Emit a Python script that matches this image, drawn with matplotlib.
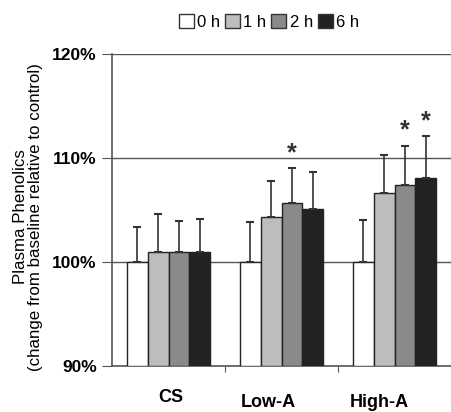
import matplotlib
matplotlib.use("Agg")
import matplotlib.pyplot as plt
import numpy as np
from matplotlib.patches import Patch

plt.rcParams['font.family'] = ['Liberation Sans', 'DejaVu Sans']

groups = ["CS", "Low-A", "High-A"]
series = ["0 h", "1 h", "2 h", "6 h"]
values = {
    "0 h": [100.0, 100.0, 100.0],
    "1 h": [101.0, 104.3, 106.65],
    "2 h": [101.0, 105.65, 107.4],
    "6 h": [101.0, 105.05, 108.05],
}
errors = {
    "0 h": [3.4, 3.8, 4.0],
    "1 h": [3.65, 3.5, 3.6],
    "2 h": [2.9, 3.35, 3.8],
    "6 h": [3.15, 3.6, 4.05],
}
significant = {"2 h": [False, True, True], "6 h": [False, False, True]}
colors = ["#ffffff", "#bdbdbd", "#8a8a8a", "#222222"]
yticks = [90, 100, 110, 120]

fig = plt.figure(figsize=(4.51, 4.12), dpi=100)
ax = fig.add_axes([112/451, 1-366/412, 339/451, 312/412])

x = np.arange(len(groups))
bw = 0.185
for i, s in enumerate(series):
    pos = x + (i - 1.5) * bw
    vals = np.array(values[s])
    ax.bar(pos, vals - 90, bottom=90, width=bw, color=colors[i],
           edgecolor="#222222", linewidth=1.0, zorder=3)
    ax.errorbar(pos, vals, yerr=[np.zeros(3), errors[s]], fmt="none",
                ecolor="#333333", elinewidth=1.2, capsize=3, capthick=1.5, zorder=4)
    if s in significant:
        for j, sig in enumerate(significant[s]):
            if sig:
                ax.text(pos[j], vals[j] + errors[s][j] + 0.3, "*", ha="center",
                        va="bottom", fontsize=18, fontweight="bold", color="#333333")

ax.set_ylim(90, 120)
ax.set_xlim(-0.5, 2.5)
ax.set_yticks(yticks)
ax.set_yticklabels([f"{v}%" for v in yticks], fontsize=12.5, fontweight="bold")
for v in yticks[1:]:
    ax.axhline(v, color="#555555", linewidth=1.0, zorder=1)
ax.set_xticks([0.5, 1.5])
ax.set_xticklabels([])
ax.tick_params(axis="x", length=4, color="#555555", direction="out")
ax.tick_params(axis="y", length=7, color="#555555", pad=4)
label_dx = [0.02, -0.12, -0.13]
label_dy = [-0.10, -0.118, -0.118]
for g, xx, dx, dy in zip(groups, x, label_dx, label_dy):
    ax.text(xx + dx, dy, g, transform=ax.get_xaxis_transform(), ha="center",
            va="center", fontsize=13, fontweight="bold")
for sp in ["top", "right"]:
    ax.spines[sp].set_visible(False)
for sp in ["left", "bottom"]:
    ax.spines[sp].set_color("#555555")
    ax.spines[sp].set_linewidth(1.2)

fig.text(28/451, 1-217/412, "Plasma Phenolics\n(change from baseline relative to control)",
         rotation=90, ha="center", va="center", fontsize=12.2,
         linespacing=1.0)

handles = [Patch(facecolor=c, edgecolor="#333333") for c in colors]
fig.legend(handles, series, loc="center", bbox_to_anchor=(269/451, 1-22/412), ncol=4,
           frameon=False, handlelength=0.9, handleheight=0.9, handletextpad=0.2,
           columnspacing=0.3, fontsize=12)

fig.savefig("out.png", dpi=100)
